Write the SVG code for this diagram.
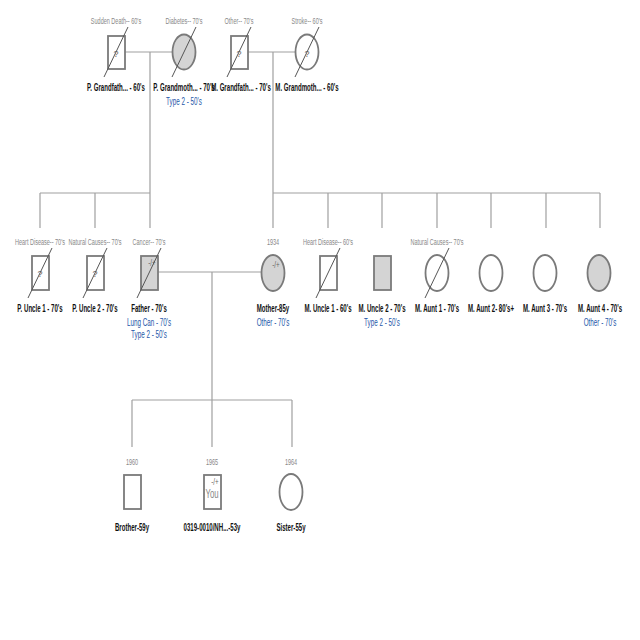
<svg xmlns="http://www.w3.org/2000/svg" width="640" height="640" viewBox="0 0 640 640">
<style>
.bg{fill:#fff}
.c{stroke:#a0a0a0;stroke-width:1.2;fill:none}
.s{stroke:#7a7a7a;stroke-width:1.8;fill:#fff}
.f{fill:#d4d4d4}
.x{stroke:#555;stroke-width:1}
.d{font-family:"Liberation Sans",Arial,sans-serif;font-size:9.5px;fill:#888;text-anchor:middle}
.n{font-family:"Liberation Sans",Arial,sans-serif;font-size:10.5px;font-weight:bold;fill:#111;text-anchor:middle}
.b{font-family:"Liberation Sans",Arial,sans-serif;font-size:10.5px;fill:#2356a8;text-anchor:middle}
.q{font-family:"Liberation Sans",Arial,sans-serif;font-size:9px;fill:#666;text-anchor:middle}
.y{font-family:"Liberation Sans",Arial,sans-serif;font-size:12px;fill:#888;text-anchor:middle}
</style>
<rect class="bg" width="640" height="640"/>
<g id="connectors">
<path class="c" d="M125,52H172M150,52V193M248,52H296M273,52V193"/>
<path class="c" d="M40,193H150M40,193V228M95,193V228M150,193V228"/>
<path class="c" d="M273,193H600M273,193V228M328,193V228M382,193V228M437,193V228M491,193V228M546,193V228M600,193V228"/>
<path class="c" d="M158,272H262M212,272V400M132,400H292M132,400V447M212,400V447M292,400V447"/>
</g>
<g id="pgf">
<text class="d" transform="translate(116,24) scale(0.58,1)">Sudden Death-- 60's</text>
<rect class="s" x="108" y="36" width="17" height="33"/>
<text class="q" x="116" y="57">?</text>
<line class="x" x1="104" y1="77" x2="128" y2="27"/>
<text class="n" transform="translate(116,91) scale(0.58,1)">P. Grandfath... - 60's</text>
</g>
<g id="pgm">
<text class="d" transform="translate(184,24) scale(0.58,1)">Diabetes-- 70's</text>
<ellipse class="s f" cx="184" cy="52" rx="11.5" ry="17.5"/>
<line class="x" x1="172" y1="77" x2="196" y2="27"/>
<text class="n" transform="translate(184,91) scale(0.58,1)">P. Grandmoth... - 70's</text>
<text class="b" transform="translate(184,105) scale(0.6,1)">Type 2 - 50's</text>
</g>
<g id="mgf">
<text class="d" transform="translate(239,24) scale(0.58,1)">Other-- 70's</text>
<rect class="s" x="231" y="36" width="17" height="33"/>
<text class="q" x="239" y="57">?</text>
<line class="x" x1="227" y1="77" x2="251" y2="27"/>
<text class="n" transform="translate(241,91) scale(0.58,1)">M. Grandfath... - 70's</text>
</g>
<g id="mgm">
<text class="d" transform="translate(307,24) scale(0.58,1)">Stroke-- 60's</text>
<ellipse class="s" cx="307" cy="52" rx="11.5" ry="17.5"/>
<text class="q" x="307" y="57">?</text>
<line class="x" x1="295" y1="77" x2="319" y2="27"/>
<text class="n" transform="translate(307,91) scale(0.58,1)">M. Grandmoth... - 60's</text>
</g>
<g id="pu1">
<text class="d" transform="translate(40,245) scale(0.58,1)">Heart Disease-- 70's</text>
<rect class="s" x="32" y="256" width="17" height="34"/>
<text class="q" x="40" y="277">?</text>
<line class="x" x1="28" y1="298" x2="52" y2="248"/>
<text class="n" transform="translate(40,312) scale(0.58,1)">P. Uncle 1 - 70's</text>
</g>
<g id="pu2">
<text class="d" transform="translate(95,245) scale(0.58,1)">Natural Causes-- 70's</text>
<rect class="s" x="87" y="256" width="17" height="34"/>
<text class="q" x="95" y="277">?</text>
<line class="x" x1="83" y1="298" x2="107" y2="248"/>
<text class="n" transform="translate(95,312) scale(0.58,1)">P. Uncle 2 - 70's</text>
</g>
<g id="father">
<text class="d" transform="translate(149,245) scale(0.58,1)">Cancer-- 70's</text>
<rect class="s f" x="141" y="256" width="17" height="34"/>
<text class="q" transform="translate(152,266) scale(0.7,1)">-/+</text>
<line class="x" x1="137" y1="298" x2="161" y2="248"/>
<text class="n" transform="translate(149,312) scale(0.58,1)">Father - 70's</text>
<text class="b" transform="translate(149,326) scale(0.6,1)">Lung Can - 70's</text>
<text class="b" transform="translate(149,338) scale(0.6,1)">Type 2 - 50's</text>
</g>
<g id="mother">
<text class="d" transform="translate(273,245) scale(0.58,1)">1934</text>
<ellipse class="s f" cx="273" cy="273" rx="11.5" ry="18"/>
<text class="q" transform="translate(276,268) scale(0.7,1)">-/+</text>
<text class="n" transform="translate(273,312) scale(0.58,1)">Mother-85y</text>
<text class="b" transform="translate(273,326) scale(0.6,1)">Other - 70's</text>
</g>
<g id="mu1">
<text class="d" transform="translate(328,245) scale(0.58,1)">Heart Disease-- 60's</text>
<rect class="s" x="320" y="256" width="17" height="34"/>
<line class="x" x1="316" y1="298" x2="340" y2="248"/>
<text class="n" transform="translate(328,312) scale(0.58,1)">M. Uncle 1 - 60's</text>
</g>
<g id="mu2">
<rect class="s f" x="374" y="256" width="17" height="34"/>
<text class="n" transform="translate(382,312) scale(0.58,1)">M. Uncle 2 - 70's</text>
<text class="b" transform="translate(382,326) scale(0.6,1)">Type 2 - 50's</text>
</g>
<g id="ma1">
<text class="d" transform="translate(437,245) scale(0.58,1)">Natural Causes-- 70's</text>
<ellipse class="s" cx="437" cy="273" rx="11.5" ry="18"/>
<line class="x" x1="425" y1="298" x2="449" y2="248"/>
<text class="n" transform="translate(437,312) scale(0.58,1)">M. Aunt 1 - 70's</text>
</g>
<g id="ma2">
<ellipse class="s" cx="491" cy="273" rx="11.5" ry="18"/>
<text class="n" transform="translate(491,312) scale(0.58,1)">M. Aunt 2- 80's+</text>
</g>
<g id="ma3">
<ellipse class="s" cx="545" cy="273" rx="11.5" ry="18"/>
<text class="n" transform="translate(545,312) scale(0.58,1)">M. Aunt 3 - 70's</text>
</g>
<g id="ma4">
<ellipse class="s f" cx="599" cy="273" rx="11.5" ry="18"/>
<text class="n" transform="translate(600,312) scale(0.58,1)">M. Aunt 4 - 70's</text>
<text class="b" transform="translate(600,326) scale(0.6,1)">Other - 70's</text>
</g>
<g id="brother">
<text class="d" transform="translate(132,465) scale(0.58,1)">1960</text>
<rect class="s" x="124" y="475" width="17" height="34"/>
<text class="n" transform="translate(132,531) scale(0.58,1)">Brother-59y</text>
</g>
<g id="you">
<text class="d" transform="translate(212,465) scale(0.58,1)">1965</text>
<rect class="s" x="204" y="475" width="17" height="34"/>
<text class="q" transform="translate(215,485) scale(0.7,1)">-/+</text>
<text class="y" transform="translate(212,498) scale(0.65,1)">You</text>
<text class="n" transform="translate(212,531) scale(0.58,1)">0319-0010/NH...-53y</text>
</g>
<g id="sister">
<text class="d" transform="translate(291,465) scale(0.58,1)">1964</text>
<ellipse class="s" cx="291" cy="492" rx="11.5" ry="18"/>
<text class="n" transform="translate(291,531) scale(0.58,1)">Sister-55y</text>
</g>
</svg>
